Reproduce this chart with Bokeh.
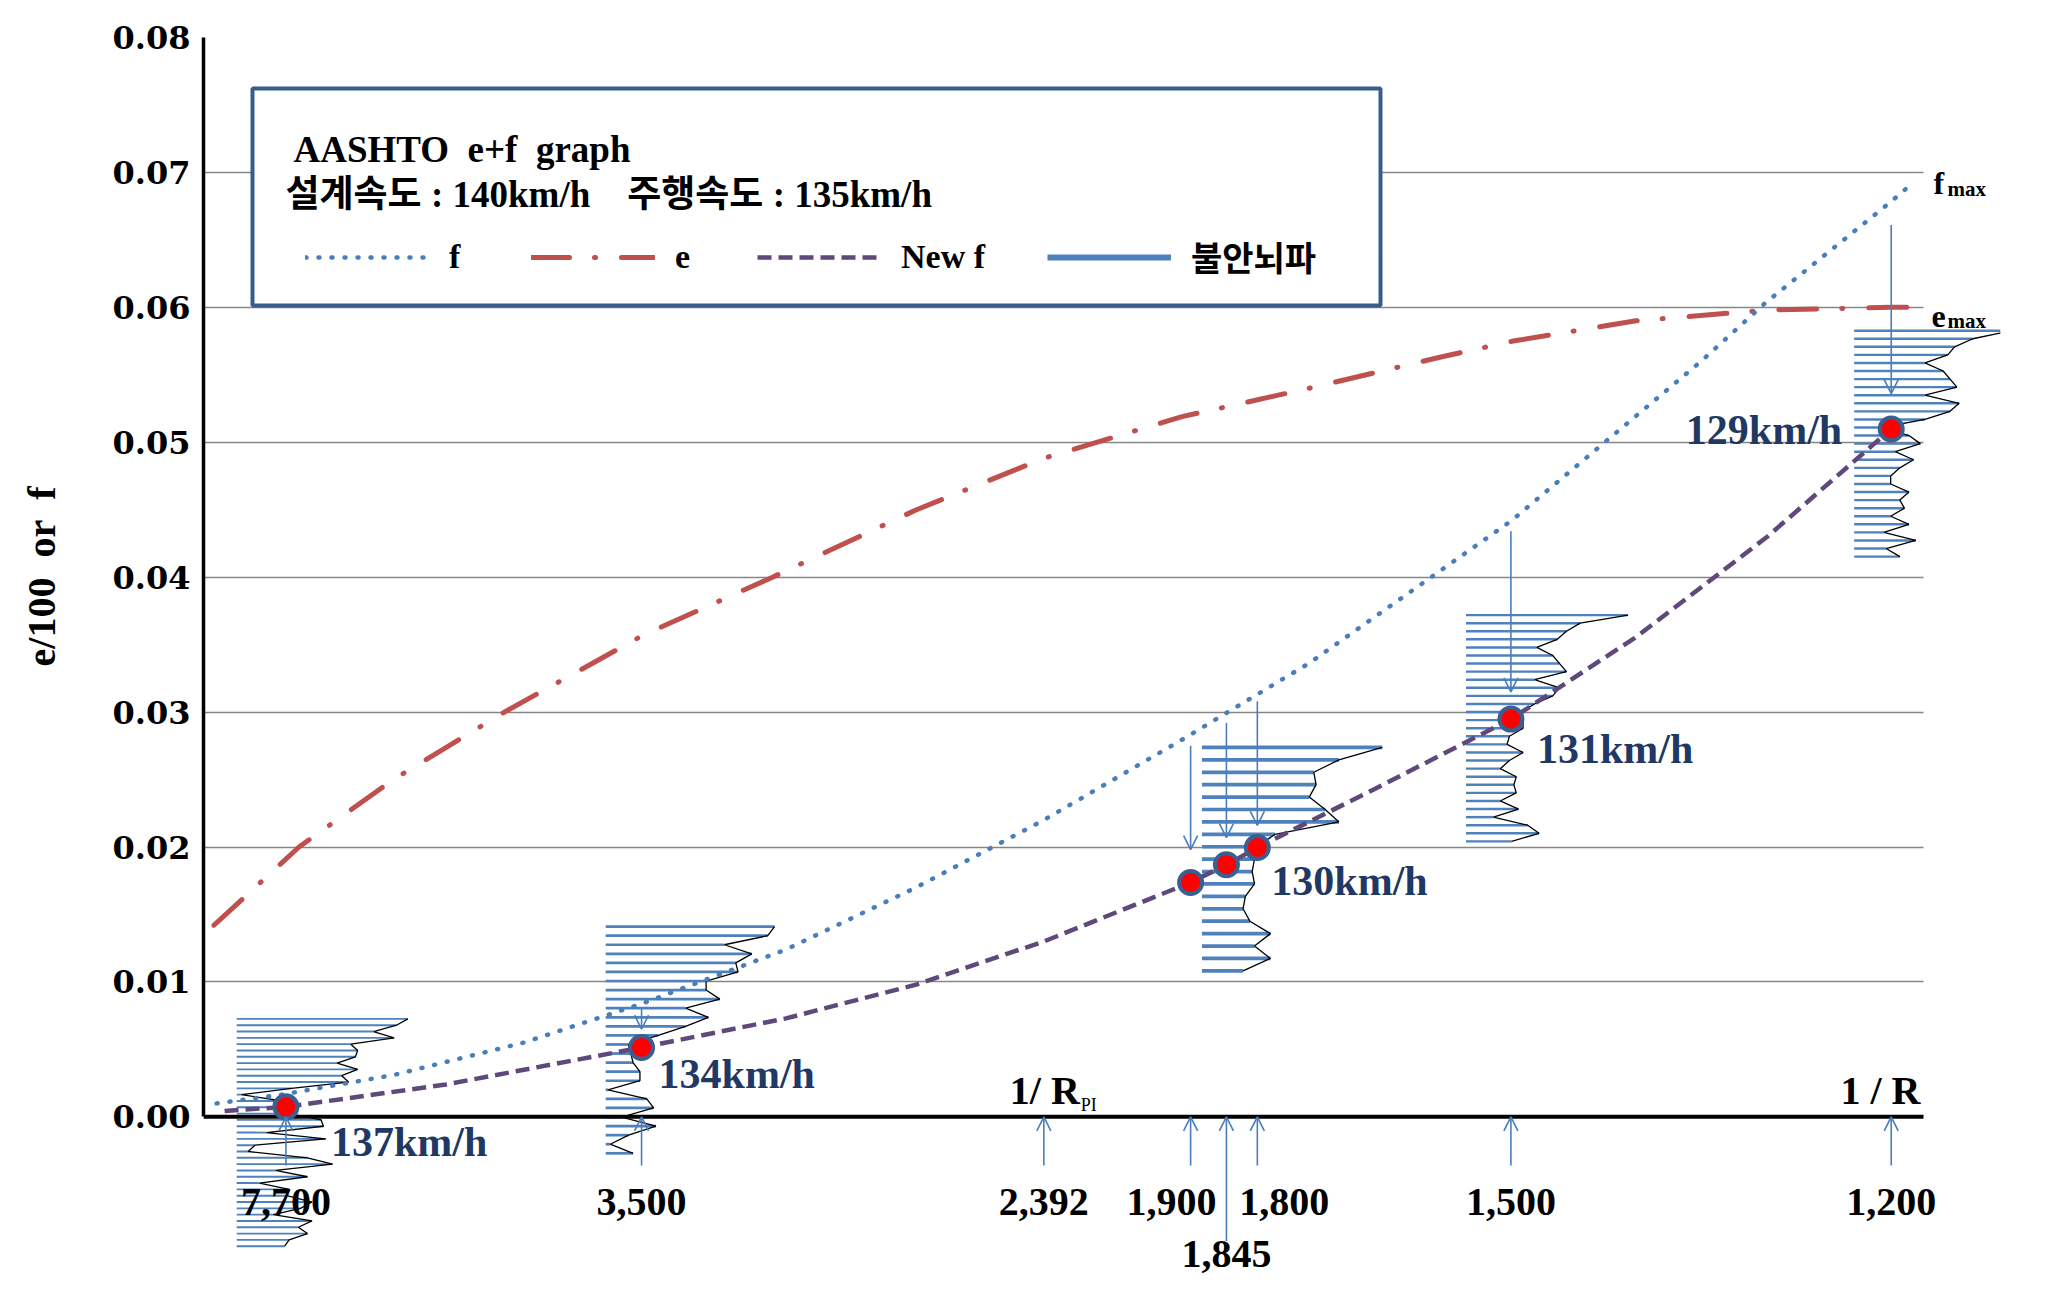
import numpy as np
from bokeh.plotting import figure
from bokeh.models import (ColumnDataSource, FixedTicker, PrintfTickFormatter, Arrow, Grid,
                          OpenHead, Label, BoxAnnotation, Legend, LegendItem, Range1d)
from bokeh.core.properties import value
from bokeh.embed import file_html
from bokeh.resources import INLINE

# ------------------------------------------------------------------ data
# x coordinate of the chart = 10^4 / R  (1/R scale)
R_ticks = [7700, 3500, 2392, 1900, 1845, 1800, 1500, 1200]
tick_labels = ["7,700", "3,500", "2,392", "1,900", "1,845", "1,800", "1,500", "1,200"]
rpi_pos = 4.62          # where 1/R_PI (2,392) is drawn on the 10^4/R scale

# AASHTO f distribution (blue dotted)
x_f = [0.995, 1.30, 1.77, 2.34, 2.86, 3.49, 4.06, 4.62, 5.23, 5.78, 6.67, 7.50, 7.78, 8.33, 8.42]
f_vals = [0.0010, 0.0017, 0.0031, 0.0055, 0.0084, 0.0124, 0.0170, 0.0220, 0.0280, 0.0336,
          0.0442, 0.0560, 0.0603, 0.0678, 0.0691]

# AASHTO e distribution (red dash-dot)
x_e = [0.983, 1.356, 1.769, 2.256, 2.864, 3.431, 4.062, 4.618, 5.226, 5.782, 6.355, 6.676,
       7.215, 7.789, 8.333, 8.45]
e_vals = [0.0142, 0.0200, 0.0250, 0.0300, 0.0357, 0.0400, 0.0450, 0.0488, 0.0519, 0.0540,
          0.0563, 0.0575, 0.0590, 0.0598, 0.0600, 0.0600]

# New f (purple dashed)
x_nf = [1.03, 1.30, 2.0, 2.857, 3.49, 4.06, 4.62, 5.263, 5.420, 5.556, 6.07, 6.667, 7.21, 7.79, 8.333]
nf_vals = [0.00044, 0.00074, 0.0024, 0.00514, 0.0073, 0.0098, 0.0130, 0.01737, 0.01868, 0.01996,
           0.0243, 0.02948, 0.0355, 0.0430, 0.05098]

# measured points on New f
R_pts = [7700, 3500, 1900, 1845, 1800, 1500, 1200]
nf_pts = [0.00074, 0.00514, 0.01737, 0.01868, 0.01996, 0.02948, 0.05098]

speed_R = [7700, 3500, 1800, 1500, 1200]
speed_nf = [0.00074, 0.00514, 0.01996, 0.02948, 0.05098]
speed_txt = ["137km/h", "134km/h", "130km/h", "131km/h", "129km/h"]

# arrows from above towards the points
arrow_top_R = [3500, 1900, 1845, 1800, 1500, 1200]
arrow_top_from = [0.0080, 0.0275, 0.0292, 0.0308, 0.0434, 0.0661]
arrow_top_to = [0.0065, 0.0198, 0.0207, 0.0216, 0.0315, 0.0536]
# arrows from below towards the axis
arrow_bot_from = [-0.0036, -0.0036, -0.0036, -0.0036, -0.0092, -0.0036, -0.0036, -0.0036]

# 불안뇌파 histograms (bar lengths in x units)
hist1_len = [0.75, 0.70, 0.60, 0.69, 0.50, 0.53, 0.52, 0.44, 0.53, 0.46, 0.49, 0.24, 0.02, 0.20,
             0.17, 0.23, 0.37, 0.38, 0.13, 0.39, 0.08, 0.05, 0.31, 0.42, 0.17, 0.31, 0.10, 0.23,
             0.22, 0.33, 0.28, 0.16, 0.33, 0.27, 0.31, 0.23, 0.21]
hist2_len = [0.74, 0.71, 0.52, 0.64, 0.57, 0.58, 0.44, 0.44, 0.50, 0.35, 0.45, 0.35, 0.23, 0.10,
             0.11, 0.12, 0.15, 0.15, 0.01, 0.18, 0.21, 0.07, 0.22, 0.10, 0.02, 0.12]
hist3_len = [0.79, 0.60, 0.49, 0.50, 0.47, 0.54, 0.60, 0.32, 0.24, 0.23, 0.22, 0.23, 0.19, 0.18,
             0.21, 0.30, 0.23, 0.30, 0.18]
hist4_len = [0.71, 0.50, 0.44, 0.40, 0.31, 0.38, 0.41, 0.44, 0.30, 0.41, 0.38, 0.30, 0.24, 0.25,
             0.25, 0.19, 0.18, 0.25, 0.19, 0.15, 0.22, 0.21, 0.22, 0.15, 0.23, 0.12, 0.27, 0.32, 0.20]
hist5_len = [0.69, 0.52, 0.44, 0.41, 0.31, 0.39, 0.42, 0.45, 0.31, 0.46, 0.42, 0.31, 0.12, 0.24,
             0.29, 0.18, 0.26, 0.20, 0.16, 0.16, 0.24, 0.20, 0.22, 0.16, 0.24, 0.13, 0.27, 0.14, 0.20]
hist_x0 = [1.083, 2.700, 5.313, 6.470, 8.171]
hist_top = [0.00726, 0.0141, 0.02738, 0.03719, 0.05827]
hist_step = [0.000468, 0.000672, 0.00092, 0.000599, 0.000598]
hists = [hist1_len, hist2_len, hist3_len, hist4_len, hist5_len]

# ------------------------------------------------------------------ styles
SERIF = "Liberation Serif"
WIDE = "DejaVu Serif"
KR = "Liberation Serif, Noto Sans CJK KR"
BLUE = "#4a7ebb"
BAR = "#4f81bd"
RED = "#c0504d"
PURPLE = "#5f497a"
NAVY = "#1f3864"
NB = "\u00a0"

FL, FT = 203, 37               # frame left / top on the page
FW, FH = 1797, 1248            # frame size
PXU = 228.2                    # pixels per x unit
X0 = 0.9375
X1 = X0 + FW / PXU
XA = X0 + 1720 / PXU           # end of the plotted axis / grid
Y0, Y1 = -0.0125, 0.08


def px2x(px):
    return X0 + (px - FL) / PXU


def py2y(py):
    return Y1 - (py - FT) * (Y1 - Y0) / FH


p = figure(width=FL + FW + 10, height=FT + FH + 5, x_range=Range1d(X0, X1),
           y_range=Range1d(Y0, Y1), output_backend="svg", toolbar_location=None,
           x_axis_location=None, min_border_left=FL, min_border_right=10,
           min_border_top=FT, min_border_bottom=5)
p.outline_line_color = None
p.background_fill_color = "white"
for g in p.grid:
    if g.dimension == 0:
        g.visible = False

ya = p.yaxis[0]
ya.ticker = FixedTicker(ticks=[0.0, 0.01, 0.02, 0.03, 0.04, 0.05, 0.06, 0.07, 0.08])
ya.formatter = PrintfTickFormatter(format="%.2f")
ya.bounds = (0, 0.08)
ya.axis_line_width = 3.5
ya.axis_line_color = "black"
ya.major_tick_line_color = None
ya.minor_tick_line_color = None
ya.major_label_text_font = WIDE
ya.major_label_text_font_style = "bold"
ya.major_label_text_font_size = "32px"
ya.major_label_text_color = "black"
ya.major_label_standoff = 7
# label is centred on the whole frame; leading blanks lift it to the middle of 0 .. 0.08
ya.axis_label = NB * 17 + "e/100" + NB + NB + "or" + NB + NB + "f"
ya.axis_label_text_font = SERIF
ya.axis_label_text_font_style = "bold"
ya.axis_label_text_font_size = "40px"
ya.axis_label_text_color = "black"
ya.axis_label_standoff = 46

yg = [g for g in p.grid if g.dimension == 1][0]
yg.ticker = FixedTicker(ticks=[0.01, 0.02, 0.03, 0.04, 0.05, 0.06, 0.07])
yg.grid_line_color = "#868686"
yg.grid_line_width = 1.3
if "cross_bounds" in Grid.properties():
    yg.cross_bounds = (X0, XA)

# histograms
for x0, top, step, lens in zip(hist_x0, hist_top, hist_step, hists):
    ys = top - step * np.arange(len(lens))
    rights = x0 + np.array(lens)
    p.hbar(y=ys, left=x0, right=rights, height=step * 0.3, fill_color=BAR, line_color=None)
    p.line(rights, ys, line_color="black", line_width=1.3)

# curves
r_e = p.line(x_e, e_vals, line_color=RED, line_width=5, line_dash="38 25 1 26",
             line_cap="round")
r_f = p.line(x_f, f_vals, line_color=BLUE, line_width=4.5, line_dash="1 12",
             line_cap="round")
r_nf = p.line(x_nf, nf_vals, line_color=PURPLE, line_width=4.5, line_dash="14 7")
r_bar = p.line(x=[X0 - 1], y=[0.0], line_color=BAR, line_width=6)

# x axis line at 0
p.segment(x0=[X0], y0=[0.0], x1=[XA], y1=[0.0], line_color="black", line_width=4)

# tick positions
tick_x = [1e4 / r for r in R_ticks]
tick_x[2] = rpi_pos

bot = ColumnDataSource(dict(x=tick_x, y0=arrow_bot_from, y1=[0.0] * len(tick_x)))
p.add_layout(Arrow(end=OpenHead(size=14, line_color=BLUE, line_width=1.6),
                   x_start="x", y_start="y0", x_end="x", y_end="y1", source=bot,
                   line_color=BLUE, line_width=1.6))
top_src = ColumnDataSource(dict(x=[1e4 / r for r in arrow_top_R], y0=arrow_top_from,
                                y1=arrow_top_to))
p.add_layout(Arrow(end=OpenHead(size=14, line_color=BLUE, line_width=1.6),
                   x_start="x", y_start="y0", x_end="x", y_end="y1", source=top_src,
                   line_color=BLUE, line_width=1.6))

# points
p.scatter([1e4 / r for r in R_pts], nf_pts, size=23, fill_color="red",
          line_color="#3c5f91", line_width=4)

# speed labels
sx = [1e4 / r for r in speed_R]
p.text(x=sx[:4], y=speed_nf[:4], text=speed_txt[:4], x_offset=[45, 17, 14, 26],
       y_offset=[35, 26, 33, 30], text_align="left", text_baseline="middle",
       text_font=value(SERIF), text_font_style="bold", text_font_size="42px",
       text_color=NAVY)
p.text(x=sx[4:], y=speed_nf[4:], text=speed_txt[4:], x_offset=[-49], y_offset=[1],
       text_align="right", text_baseline="middle", text_font=value(SERIF),
       text_font_style="bold", text_font_size="42px", text_color=NAVY)

# x tick labels
p.text(x=tick_x, y=[0.0] * len(tick_x), text=tick_labels,
       x_offset=[0, 0, 0, -19, 0, 27, 0, 0], y_offset=[85, 85, 85, 85, 137, 85, 85, 85],
       text_align="center", text_baseline="middle", text_font=value(SERIF),
       text_font_style="bold", text_font_size="40px", text_color="black")

# 1/R_PI and 1/R
p.text(x=[rpi_pos], y=[0.0], text=["1/" + NB + "R"], x_offset=[36], y_offset=[-26],
       text_align="right", text_baseline="middle", text_font=value(SERIF),
       text_font_style="bold", text_font_size="40px", text_color="black")
p.text(x=[rpi_pos], y=[0.0], text=["PI"], x_offset=[37], y_offset=[-12],
       text_align="left", text_baseline="alphabetic", text_font=value(SERIF),
       text_font_size="18px", text_color="black")
p.text(x=[XA], y=[0.0], text=["1" + NB + "/" + NB + "R"], x_offset=[-3], y_offset=[-26],
       text_align="right", text_baseline="middle", text_font=value(SERIF),
       text_font_style="bold", text_font_size="40px", text_color="black")

# f max / e max
for txt, px, py, size in [("f", 1933, 182, "32px"), ("max", 1947, 188, "21px"),
                          ("e", 1931, 316, "32px"), ("max", 1947, 320, "21px")]:
    p.add_layout(Label(x=px2x(px), y=py2y(py), text=txt, text_align="left",
                       text_baseline="alphabetic", text_font=SERIF, text_font_style="bold",
                       text_font_size=size, text_color="black"))

# legend box
p.add_layout(BoxAnnotation(left=px2x(252), right=px2x(1380), top=py2y(88), bottom=py2y(305),
                           fill_color="white", fill_alpha=1.0, line_color="#385d8a",
                           line_width=4, line_alpha=1.0))
p.add_layout(Label(x=px2x(293), y=py2y(149),
                   text="AASHTO" + NB + NB + "e+f" + NB + NB + "graph", text_align="left",
                   text_baseline="middle", text_font=SERIF, text_font_style="bold",
                   text_font_size="37px", text_color="black"))
p.add_layout(Label(x=px2x(285), y=py2y(194),
                   text="설계속도" + NB + ":" + NB + "140km/h" + NB * 4 + "주행속도" + NB + ":"
                        + NB + "135km/h",
                   text_align="left", text_baseline="middle", text_font=KR,
                   text_font_style="bold", text_font_size="37px", text_color="black"))

legend = Legend(items=[LegendItem(label="f", renderers=[r_f]),
                       LegendItem(label="e", renderers=[r_e]),
                       LegendItem(label="New f", renderers=[r_nf]),
                       LegendItem(label="불안뇌파", renderers=[r_bar])],
                orientation="horizontal", location=(102, 1004), glyph_width=124,
                glyph_height=30, label_standoff=20, spacing=62, padding=0, margin=0,
                label_height=30, border_line_color=None, background_fill_alpha=0,
                label_text_font=KR, label_text_font_style="bold",
                label_text_font_size="34px", label_text_color="black")
p.add_layout(legend)

open("out.html", "w").write(file_html(p, INLINE))
